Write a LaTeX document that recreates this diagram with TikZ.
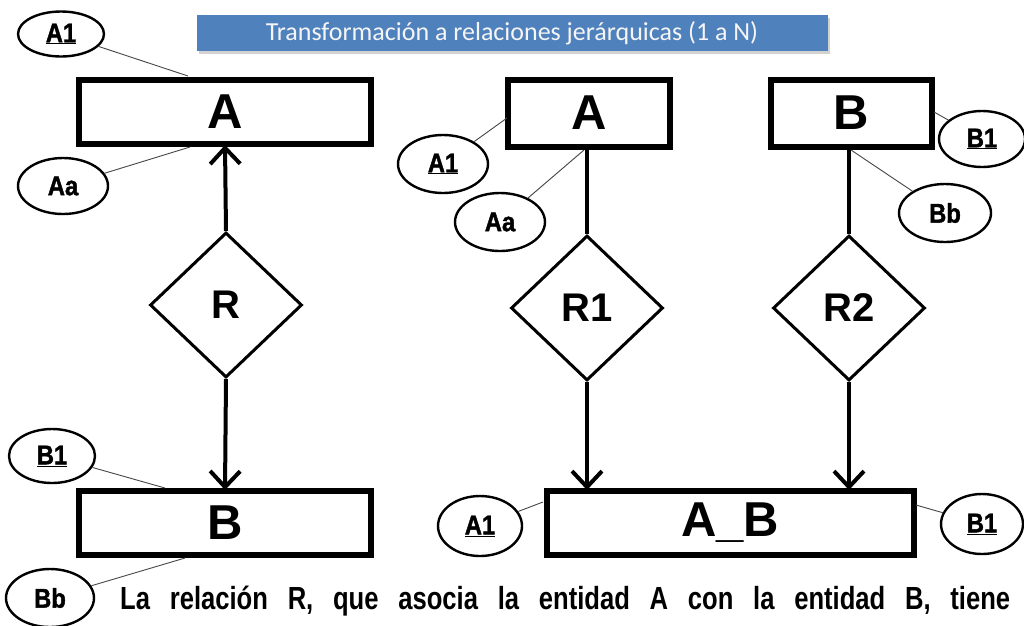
\documentclass[tikz,border=0pt]{standalone}
\usepackage{fontspec}
\setmainfont{Liberation Sans}
\newfontfamily\titlefont{Carlito}
\newfontfamily\narrowfont[FakeStretch=0.8]{Liberation Sans Bold}
\newfontfamily\attrfont[FakeStretch=0.88,FakeBold=1.5]{Liberation Sans Bold}
\usetikzlibrary{shapes.geometric,arrows.meta,shadows}
\definecolor{banner}{RGB}{79,129,189}
\definecolor{thinline}{RGB}{70,70,70}
\tikzset{
  entity/.style={draw=black, line width=6pt, fill=white, minimum width=292pt, minimum height=64pt, inner sep=0pt, font=\bfseries\fontsize{49}{49}\selectfont},
  relation/.style={draw=black, line width=3pt, diamond, aspect=1.05, minimum width=152pt, minimum height=145pt, inner sep=0pt, font=\bfseries\fontsize{40}{40}\selectfont},
  attr/.style={draw=black, line width=2.4pt, ellipse, minimum width=90pt, minimum height=58pt, inner sep=0pt, font=\attrfont\fontsize{27}{27}\selectfont},
  link/.style={draw=thinline, line width=0.9pt},
  conn/.style={line width=4pt},
  arr/.style={conn, -{Straight Barb[length=16pt,width=30pt,line width=4pt]}},
}
\begin{document}
\begin{tikzpicture}[x=1pt,y=-1pt]
\useasboundingbox (0,0) rectangle (1024,625);
\fill[white] (0,0) rectangle (1024,625);
% title
\node[fill=banner, minimum width=631pt, minimum height=36pt, inner sep=0pt, text=white!92!gray, drop shadow={shadow xshift=2pt, shadow yshift=-3pt, opacity=0.35}, font=\titlefont\fontsize{26}{26}\selectfont] (title) at (512,33) {Transformación a relaciones jerárquicas (1 a N)};
% left side
\node[entity] (A) at (225,112) {A};
\node[entity] (B) at (225,523) {B};
\node[relation] (R) at (226,305) {R};
\node[attr, minimum width=86pt, minimum height=45pt] (lA1) at (61,34) {\underline{A1}};
\node[attr, minimum width=90pt, minimum height=56pt] (lAa) at (63,186) {Aa};
\node[attr, minimum width=86pt, minimum height=54pt] (lB1) at (52,456) {\underline{B1}};
\node[attr, minimum width=88pt, minimum height=58pt] (lBb) at (50,598) {Bb};
\coordinate (lA1c) at (188,76);
\coordinate (lAac) at (190,147);
\coordinate (lB1c) at (165,488);
\coordinate (lBbc) at (185,558);
\draw[link] (lA1) -- (lA1c);
\draw[link] (lAa) -- (lAac);
\draw[link] (lB1) -- (lB1c);
\draw[link] (lBb) -- (lBbc);
\draw[arr] (R.north) -- ([yshift=2pt]A.south);
\draw[arr] (R.south) -- ([yshift=-2pt]B.north);
% right side
\node[entity, minimum width=162pt, minimum height=67pt] (A2) at (589,113) {A};
\node[entity, minimum width=161pt, minimum height=67pt] (B2) at (851,113) {B};
\node[entity, minimum width=367pt] (AB) at (730,523) {A\_B};
\node[relation] (R1) at (587,308) {R1};
\node[relation] (R2) at (849,308) {R2};
\draw[conn] (A2.south -| R1.north) -- (R1.north);
\draw[conn] (B2.south -| R2.north) -- (R2.north);
\draw[arr] (R1.south) -- ([yshift=-2pt]R1.south |- AB.north);
\draw[arr] (R2.south) -- ([yshift=-2pt]R2.south |- AB.north);
\node[attr] (mA1) at (443,164) {\underline{A1}};
\node[attr] (mAa) at (500,222) {Aa};
\node[attr, minimum width=86pt, minimum height=56pt] (rB1) at (982,139) {\underline{B1}};
\node[attr, minimum width=92pt] (rBb) at (945,213) {Bb};
\node[attr, minimum width=84pt, minimum height=60pt] (bA1) at (480,526) {\underline{A1}};
\node[attr, minimum width=82pt, minimum height=60pt] (bB1) at (982,524) {\underline{B1}};
\coordinate (mA1c) at (507,118);
\coordinate (mAac) at (584,150);
\coordinate (rB1c) at (934,112);
\coordinate (rBbc) at (851,150);
\coordinate (bA1c) at (543,502);
\coordinate (bB1c) at (916,505);
\draw[link] (mA1) -- (mA1c);
\draw[link] (mAa) -- (mAac);
\draw[link] (rB1) -- (rB1c);
\draw[link] (rBb) -- (rBbc);
\draw[link] (bA1) -- (bA1c);
\draw[link] (bB1) -- (bB1c);
% bottom text
\node[anchor=base west, inner sep=0pt, font=\narrowfont\fontsize{32}{32}\selectfont] (txt) at (120,609) {\makebox[890pt][s]{La relación R, que asocia la entidad A con la entidad B, tiene}};
\end{tikzpicture}
\end{document}
